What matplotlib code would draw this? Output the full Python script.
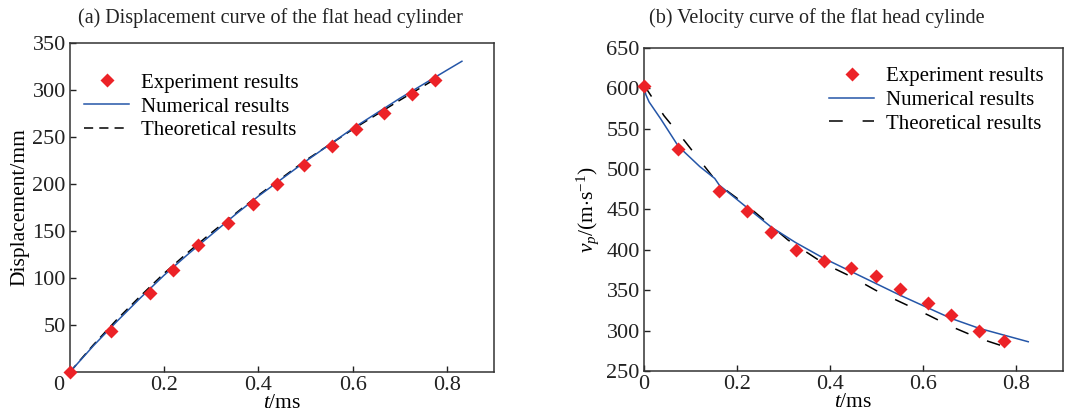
import numpy as np
import matplotlib.pyplot as plt
from matplotlib.transforms import ScaledTranslation

plt.rcParams['font.family'] = ['Liberation Serif', 'DejaVu Serif']
plt.rcParams['mathtext.fontset'] = 'custom'
plt.rcParams['mathtext.rm'] = 'Liberation Serif'
plt.rcParams['mathtext.it'] = 'Liberation Serif:italic'

# (a) displacement
exp_t_a = [0, 0.087, 0.170, 0.218, 0.271, 0.336, 0.388, 0.440, 0.496, 0.556, 0.607, 0.667, 0.725, 0.774]
exp_d = [0, 43.8, 84.4, 108.4, 134.9, 158.5, 179, 199.5, 220, 240.1, 258.5, 275.4, 295.5, 310.7]
num_t_a = [0, 0.05, 0.1, 0.15, 0.2, 0.25, 0.3, 0.35, 0.4, 0.5, 0.6, 0.7, 0.8, 0.832]
num_d = [0, 28, 54, 79, 103, 125, 146, 167, 187, 224, 259, 291, 321, 330.5]
theo_t_a = [0, 0.05, 0.1, 0.15, 0.2, 0.25, 0.3, 0.35, 0.4, 0.5, 0.6, 0.7, 0.78]
theo_d = [0, 29, 56, 81, 105, 127, 148, 168, 188, 225, 258, 289, 313]

# (b) velocity
exp_t_b = [0, 0.074, 0.162, 0.221, 0.274, 0.326, 0.387, 0.446, 0.498, 0.550, 0.611, 0.661, 0.721, 0.774]
exp_v = [602.6, 524.6, 473.1, 447.9, 422.4, 399.7, 386.5, 377, 367.5, 351, 334.5, 319.3, 299.5, 287.1]
num_t_b = [0, 0.004, 0.011, 0.036, 0.074, 0.12, 0.152, 0.162, 0.221, 0.274, 0.326, 0.387, 0.446, 0.55, 0.661, 0.721, 0.826]
num_v = [602.6, 592, 583, 562, 528, 503, 488.4, 480, 452.5, 428, 409, 389.4, 373, 344, 315, 302.8, 286.3]
theo_t_b = [0, 0.043, 0.087, 0.162, 0.221, 0.31, 0.387, 0.446, 0.498, 0.55, 0.611, 0.661, 0.721, 0.787]
theo_v = [604, 566, 535, 480, 455, 412, 383, 366.7, 350, 335.8, 319.3, 305, 290.4, 278]

red = '#ec2227'
blue = '#2556a8'
fs_tick = 16
fs_lab = 15.5
fs_leg = 15
fs_title = 14.5

fig = plt.figure(figsize=(10.68, 4.16), dpi=100)
ax1 = fig.add_axes([0.0655, 0.1058, 0.397, 0.791])
ax2 = fig.add_axes([0.603, 0.108, 0.392, 0.777])

ax1.plot(theo_t_a, theo_d, color='black', lw=1.1, dashes=(6, 4), label='Theoretical results', zorder=2)
ax1.plot(num_t_a, num_d, color=blue, lw=1.1, label='Numerical results', zorder=3)
ax1.plot(exp_t_a, exp_d, 'D', color=red, ms=7.5, mec='none', label='Experiment results', zorder=4, clip_on=False)
ax1.set_xlim(0, 0.9)
ax1.set_ylim(0, 350)
ax1.set_xticks([0, 0.2, 0.4, 0.6, 0.8])
ax1.set_xticklabels(['0', '0.2', '0.4', '0.6', '0.8'])
ax1.set_yticks([50, 100, 150, 200, 250, 300, 350])
ax1.set_ylabel('Displacement/mm', fontsize=fs_lab, labelpad=2)
ax1.set_xlabel('$\\mathit{t}$/ms', fontsize=fs_lab, labelpad=-1)
h, l = ax1.get_legend_handles_labels()
ax1.legend(h[::-1], l[::-1], loc='upper left', bbox_to_anchor=(-0.01, 0.965), frameon=False,
           fontsize=fs_leg, handlelength=2.15, handletextpad=0.58, labelspacing=0.2)

ax2.plot(theo_t_b, theo_v, color='black', lw=1.1, dashes=(9, 13), label='Theoretical results', zorder=2)
ax2.plot(num_t_b, num_v, color=blue, lw=1.1, label='Numerical results', zorder=3)
ax2.plot(exp_t_b, exp_v, 'D', color=red, ms=7.5, mec='none', label='Experiment results', zorder=4, clip_on=False)
ax2.set_xlim(0, 0.9)
ax2.set_ylim(250, 650)
ax2.set_xticks([0, 0.2, 0.4, 0.6, 0.8])
ax2.set_xticklabels(['0', '0.2', '0.4', '0.6', '0.8'])
ax2.set_yticks([250, 300, 350, 400, 450, 500, 550, 600, 650])
ax2.set_ylabel('$\\mathit{v}_{\\mathit{p}}$/(m$\\cdot$s$^{-1}$)', fontsize=fs_lab, labelpad=4)
ax2.set_xlabel('$\\mathit{t}$/ms', fontsize=fs_lab, labelpad=-1)
h, l = ax2.get_legend_handles_labels()
ax2.legend(h[::-1], l[::-1], loc='upper right', bbox_to_anchor=(1.0, 1.0), frameon=False,
           fontsize=fs_leg, handlelength=2.15, handletextpad=0.58, labelspacing=0.2)

fig.text(270 / 1068, 1 - 18 / 416, '(a) Displacement curve of the flat head cylinder',
         fontsize=fs_title, ha='center', va='center', color='#222222')
fig.text(817 / 1068, 1 - 18 / 416, '(b) Velocity curve of the flat head cylinde',
         fontsize=fs_title, ha='center', va='center', color='#222222')

for ax in (ax1, ax2):
    ax.tick_params(direction='in', length=4, width=1, labelsize=fs_tick, colors='#222222', pad=3)
    for s in ax.spines.values():
        s.set_color('#333333')
        s.set_linewidth(1.1)

# the corner "0" of panel (a) sits left of the axis
lbl = ax1.get_xticklabels()[0]
lbl.set_transform(lbl.get_transform() + ScaledTranslation(-0.11, 0, fig.dpi_scale_trans))

plt.savefig('out.png', dpi=100)
